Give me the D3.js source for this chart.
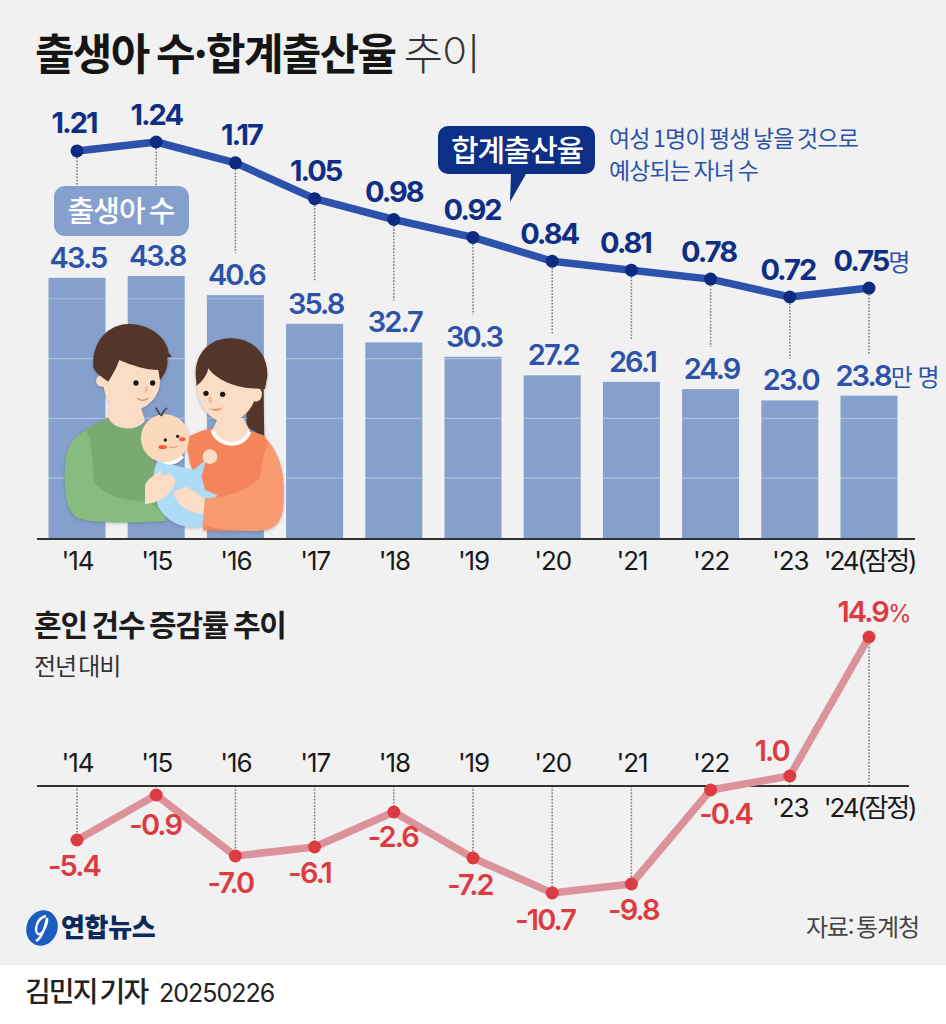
<!DOCTYPE html>
<html lang="ko">
<head>
<meta charset="utf-8">
<script src="https://cdn.jsdelivr.net/npm/d3@7"></script>
<style>
  html, body { margin: 0; padding: 0; background: #fff; }
  svg { display: block; }
  text { font-family: Inter, "Noto Sans CJK KR", sans-serif; }
  .kr { font-family: "Noto Sans CJK KR", sans-serif; }
</style>
</head>
<body>
<svg id="chart" width="946" height="1024"></svg>
<script>
// values
const years = ["'14", "'15", "'16", "'17", "'18", "'19", "'20", "'21", "'22", "'23", "'24(잠정)"];
const births = [43.5, 43.8, 40.6, 35.8, 32.7, 30.3, 27.2, 26.1, 24.9, 23.0, 23.8];
const fertility = [1.21, 1.24, 1.17, 1.05, 0.98, 0.92, 0.84, 0.81, 0.78, 0.72, 0.75];
const marriage = [-5.4, -0.9, -7.0, -6.1, -2.6, -7.2, -10.7, -9.8, -0.4, 1.0, 14.9];
const birthGrid = [10, 20, 30, 40];

const svg = d3.select("#chart");

svg.append("rect").attr("width", 946).attr("height", 965).attr("fill", "#f1f1f1");

const x = d3.scalePoint().domain(years).range([77, 869]);
const yBirth = d3.scaleLinear().domain([0, 43.8]).range([538, 276]);
const yRate = d3.scaleLinear().domain([0.72, 1.24]).range([297, 142]);
const yMarriage = d3.scaleLinear().domain([0, 14.9]).range([786, 637]);

const navy = "#0f2f85", blue = "#2d52aa", barBlue = "#86a0cd", red = "#dc3c41";
const barW = 57;

// title
const title = svg.append("text").attr("class", "kr").attr("x", 35).attr("y", 70)
  .attr("font-size", 43).attr("letter-spacing", -1.7).attr("word-spacing", -3).attr("fill", "#151515");
title.append("tspan").attr("font-weight", 700).text("출생아 수·합계출산율");
title.append("tspan").attr("font-weight", 300).attr("dx", 8).attr("fill", "#333").text("추이");

// bars with their faint grid lines
const bars = svg.append("g");
bars.selectAll("rect").data(births).enter().append("rect")
  .attr("x", (d, i) => x(years[i]) - barW / 2)
  .attr("y", d => yBirth(d))
  .attr("width", barW)
  .attr("height", d => yBirth(0) - yBirth(d))
  .attr("fill", barBlue);

births.forEach((d, i) => {
  birthGrid.filter(g => g < d).forEach(g => {
    bars.append("line")
      .attr("x1", x(years[i]) - barW / 2).attr("x2", x(years[i]) + barW / 2)
      .attr("y1", yBirth(g)).attr("y2", yBirth(g))
      .attr("stroke", "#fff").attr("stroke-opacity", 0.35).attr("stroke-width", 1.2);
  });
});

// dotted droplines
svg.append("g").selectAll("line").data(fertility).enter().append("line")
  .attr("x1", (d, i) => x(years[i])).attr("x2", (d, i) => x(years[i]))
  .attr("y1", d => yRate(d))
  .attr("y2", (d, i) => yBirth(births[i]) - 42)
  .attr("stroke", "#777").attr("stroke-width", 1.5).attr("stroke-dasharray", "1.6 1.6");

// badge
svg.append("rect").attr("x", 54).attr("y", 186).attr("width", 135).attr("height", 50)
  .attr("rx", 11).attr("fill", barBlue);
svg.append("text").attr("class", "kr").attr("x", 121).attr("y", 222).attr("text-anchor", "middle")
  .attr("font-size", 29).attr("font-weight", 500).attr("letter-spacing", -1).attr("word-spacing", -3).attr("fill", "#fff")
  .text("출생아 수");

// bar value labels
const barLabels = svg.append("g").attr("font-size", 29).attr("font-weight", 600)
  .attr("letter-spacing", -1.9).attr("fill", blue);
births.forEach((d, i) => {
  const last = i === births.length - 1;
  const t = barLabels.append("text")
    .attr("x", x(years[i]) + (last ? 18 : 1))
    .attr("y", yBirth(d) - 10)
    .attr("text-anchor", "middle")
    .text(d.toFixed(1));
  if (last) t.append("tspan").attr("class", "kr").attr("font-size", 24).attr("font-weight", 400).attr("letter-spacing", -1).text("만 명");
});

// fertility line
const rateLine = d3.line().x((d, i) => x(years[i])).y(d => yRate(d));
svg.append("path").attr("d", rateLine(fertility)).attr("fill", "none")
  .attr("stroke", "#2d52ac").attr("stroke-width", 7.5).attr("stroke-linejoin", "round");
svg.append("g").selectAll("circle").data(fertility).enter().append("circle")
  .attr("cx", (d, i) => x(years[i])).attr("cy", d => yRate(d)).attr("r", 6.5).attr("fill", "#0b2a80");

// sideways shift of each rate label, as placed in the original
const rateShift = [-3, 0, 6, 1, 0, -1, -3, -6, -2, -2, 2];
const rateLabels = svg.append("g").attr("font-size", 29).attr("font-weight", 700)
  .attr("letter-spacing", -2).attr("fill", navy);
fertility.forEach((d, i) => {
  const t = rateLabels.append("text")
    .attr("x", x(years[i]) + rateShift[i])
    .attr("y", yRate(d) - 17.5)
    .attr("text-anchor", "middle")
    .text(d.toFixed(2));
  if (i === fertility.length - 1) t.append("tspan").attr("class", "kr").attr("font-size", 24).attr("font-weight", 400).attr("fill", blue).text("명");
});

// callout
svg.append("path")
  .attr("d", "M448,126 H585 a10,10 0 0 1 10,10 V164 a10,10 0 0 1 -10,10 H526 L510,202 L511,174 H448 a10,10 0 0 1 -10,-10 V136 a10,10 0 0 1 10,-10 Z")
  .attr("fill", "#0d2f86");
svg.append("text").attr("class", "kr").attr("x", 517).attr("y", 161).attr("text-anchor", "middle")
  .attr("font-size", 30).attr("font-weight", 500).attr("letter-spacing", -1.2).attr("fill", "#fff").text("합계출산율");
svg.append("text").attr("class", "kr").attr("x", 609).attr("y", 147)
  .attr("font-size", 23).attr("letter-spacing", -0.9).attr("word-spacing", -2).attr("fill", blue).text("여성 1명이 평생 낳을 것으로");
svg.append("text").attr("class", "kr").attr("x", 609).attr("y", 179)
  .attr("font-size", 23).attr("letter-spacing", -0.9).attr("word-spacing", -2).attr("fill", blue).text("예상되는 자녀 수");

// axis text styling
function styleAxis(g) {
  g.select(".domain").remove();
  g.selectAll("text").attr("font-size", 26).attr("letter-spacing", -1.1).attr("fill", "#1a1a1a")
    .attr("font-family", 'Inter, "Noto Sans CJK KR", sans-serif');
  g.selectAll("text").filter(d => d === years[years.length - 1]).attr("letter-spacing", -2.2);
}
svg.append("g").attr("transform", "translate(0,539)")
  .call(d3.axisBottom(x).tickSize(0).tickPadding(13))
  .call(styleAxis);
svg.append("line").attr("x1", 37).attr("x2", 915).attr("y1", 539).attr("y2", 539)
  .attr("stroke", "#333").attr("stroke-width", 2);

// family illustration, traced in crop coordinates
const art = svg.append("g").attr("transform", "translate(30,310) scale(0.3333)")
  .style("filter", "drop-shadow(0 3px 5px rgba(60,60,60,0.3))");
const skin = "#fbdcc5", hair = "#54352a";
const shapes = [
  // man
  ["M235,322 C190,345 125,370 108,440 C100,520 105,590 135,620 C170,640 330,640 410,632 L372,460 L345,340 C330,360 250,365 235,322 Z", "#79ab71"],
  ["M170,360 C130,380 110,410 107,450 C100,530 105,590 135,620 C165,640 300,640 410,632 L380,590 L345,575 C300,570 240,570 190,515 C190,460 185,400 170,360 Z", "#87bc80"],
  ["M240,270 L235,322 C250,365 330,365 345,330 L330,285 Z", skin],
  ["M215,190 C215,140 270,130 320,135 C370,140 392,170 390,215 C388,270 340,305 290,305 C245,305 220,265 215,190 Z", skin],
  ["M232,213 a17,17 0 1 1 -34,0 a17,17 0 1 1 34,0 Z", skin],
  ["M190,170 C185,90 240,40 300,42 C370,45 412,90 416,128 L426,140 L412,142 C415,170 408,190 390,210 L385,180 C350,180 300,165 268,150 L258,175 L235,215 C205,195 190,180 190,170 Z", hair],
  // woman
  ["M650,200 L700,210 L703,382 L650,350 Z", hair],
  ["M560,350 C520,360 490,370 468,385 L480,460 L520,560 L520,660 C600,665 680,665 730,650 C765,620 765,520 755,480 C745,430 720,400 700,375 L655,362 Z", "#f6845a"],
  ["M570,310 L548,360 C560,410 645,420 660,362 L640,325 Z", skin],
  ["M500,200 C505,150 560,130 610,140 C660,150 682,200 678,250 C670,310 620,340 580,335 C530,330 495,270 500,200 Z", skin],
  ["M696,253 a18,22 0 1 1 -36,0 a18,22 0 1 1 36,0 Z", skin],
  ["M497,195 C495,130 540,85 600,85 C670,85 715,130 712,200 L705,237 L660,235 C610,230 560,210 535,175 C530,200 515,215 500,228 Z", hair],
  // baby
  ["M385,450 C365,480 365,530 385,590 C410,640 470,660 515,650 L525,600 L562,555 L525,540 L515,500 L528,450 L490,480 L450,470 Z", "#aedcf6"],
  ["M390,452 Q430,480 462,442 L455,435 L395,440 Z", "#fff"],
  ["M405,313 C445,313 477,345 477,385 C477,425 445,457 405,457 C365,457 333,425 333,385 C333,345 365,313 405,313 Z", "#fbd9bc"],
  ["M562,440 a22,22 0 1 1 -44,0 a22,22 0 1 1 44,0 Z", skin],
  // hands and the woman's sleeve
  ["M345,530 C345,510 380,490 395,480 L392,500 L420,490 L437,510 C430,550 390,580 345,582 Z", skin],
  ["M430,545 L470,530 L525,565 L520,612 C480,610 440,590 430,545 Z", skin],
  ["M525,565 C600,560 660,540 690,500 C700,440 705,410 715,400 C750,430 765,500 760,590 C755,640 730,660 690,662 C640,665 570,660 518,645 Z", "#fa9a70"]
];
art.selectAll("path").data(shapes).enter().append("path")
  .attr("d", d => d[0]).attr("fill", d => d[1]);
art.append("path").attr("d", "M548,360 C560,410 640,418 658,365").attr("fill", "none").attr("stroke", "#fff").attr("stroke-width", 12);
const faces = art.append("g").style("filter", "none");
[[318, 219, 8], [368, 219, 8], [528, 250, 8], [578, 253, 8], [406, 390, 5], [443, 379, 5]].forEach(e => {
  faces.append("circle").attr("cx", e[0]).attr("cy", e[1]).attr("r", e[2]).attr("fill", "#1d1512");
});
faces.append("ellipse").attr("cx", 398).attr("cy", 411).attr("rx", 13).attr("ry", 6).attr("fill", "#f2603c");
faces.append("ellipse").attr("cx", 457).attr("cy", 388).attr("rx", 10).attr("ry", 6).attr("fill", "#f2603c");
faces.append("path").attr("d", "M322,265 q15,12 32,0").attr("fill", "none").attr("stroke", "#e0855f").attr("stroke-width", 4);
faces.append("path").attr("d", "M350,225 q8,20 -3,26 q-8,-8 3,-26").attr("fill", "#f2b9a0");
faces.append("path").attr("d", "M540,255 q-12,22 3,28 q8,-12 -3,-28").attr("fill", "#f2b9a0");
faces.append("path").attr("d", "M535,295 q22,5 45,-3 q-20,20 -45,3").attr("fill", "#e8917a");
faces.append("path").attr("d", "M418,410 q12,8 24,-3").attr("fill", "none").attr("stroke", "#e0855f").attr("stroke-width", 3);
faces.append("path").attr("d", "M395,318 C385,310 382,300 378,293 M395,318 C398,305 405,297 412,294")
  .attr("fill", "none").attr("stroke", "#333").attr("stroke-width", 4);

// marriage chart
svg.append("text").attr("class", "kr").attr("x", 34).attr("y", 636)
  .attr("font-size", 30).attr("font-weight", 700).attr("letter-spacing", -1.2).attr("word-spacing", -2.5).attr("fill", "#1c1c1c").text("혼인 건수 증감률 추이");
svg.append("text").attr("class", "kr").attr("x", 34).attr("y", 675)
  .attr("font-size", 24).attr("letter-spacing", -1.2).attr("word-spacing", -3).attr("fill", "#333").text("전년 대비");

svg.append("g").selectAll("line").data(marriage).enter().append("line")
  .attr("x1", (d, i) => x(years[i])).attr("x2", (d, i) => x(years[i]))
  .attr("y1", yMarriage(0)).attr("y2", d => yMarriage(d))
  .attr("stroke", "#777").attr("stroke-width", 1.5).attr("stroke-dasharray", "1.6 1.6");

svg.append("line").attr("x1", 37).attr("x2", 909).attr("y1", yMarriage(0)).attr("y2", yMarriage(0))
  .attr("stroke", "#333").attr("stroke-width", 2);

svg.append("g").attr("transform", `translate(0,${yMarriage(0)})`)
  .call(d3.axisTop(x).tickValues(years.slice(0, 9)).tickSize(0).tickPadding(14))
  .call(styleAxis);
svg.append("g").attr("transform", `translate(0,${yMarriage(0)})`)
  .call(d3.axisBottom(x).tickValues(years.slice(9)).tickSize(0).tickPadding(13))
  .call(styleAxis);

const marriageLine = d3.line().x((d, i) => x(years[i])).y(d => yMarriage(d));
svg.append("path").attr("d", marriageLine(marriage)).attr("fill", "none")
  .attr("stroke", "#dc929b").attr("stroke-width", 7.5).attr("stroke-linejoin", "round");
svg.append("g").selectAll("circle").data(marriage).enter().append("circle")
  .attr("cx", (d, i) => x(years[i])).attr("cy", d => yMarriage(d)).attr("r", 6.5).attr("fill", red);

// label offsets, by year, where the original moves a label off its point
const nudge = { 0: [-3, 36], 1: [-1, 40], 2: [-5, 37], 3: [-5, 36], 4: [-1, 35], 5: [-3, 37], 6: [-7, 37], 7: [2, 36], 8: [15, 34], 9: [-18, -15], 10: [5, -15] };
const marriageLabels = svg.append("g").attr("font-size", 29).attr("font-weight", 600)
  .attr("letter-spacing", -1.9).attr("fill", red);
marriage.forEach((d, i) => {
  const t = marriageLabels.append("text")
    .attr("x", x(years[i]) + nudge[i][0])
    .attr("y", yMarriage(d) + nudge[i][1])
    .attr("text-anchor", "middle")
    .text(d.toFixed(1));
  if (i === marriage.length - 1) t.append("tspan").attr("font-size", 24).attr("font-weight", 400).attr("letter-spacing", -1).text("%");
});

// logo and source
const logo = svg.append("g").attr("transform", "translate(42,928)");
logo.append("ellipse").attr("rx", 15.5).attr("ry", 18).attr("transform", "rotate(20)").attr("fill", "#1a5cc0");
logo.append("path").attr("d", "M4,-12 C-6,-10 -8,4 -4,6 C0,8 6,-4 5,-10 M5,-10 C3,0 0,10 -6,13")
  .attr("fill", "none").attr("stroke", "#fff").attr("stroke-width", 2.4);
svg.append("text").attr("class", "kr").attr("x", 61).attr("y", 937)
  .attr("font-size", 26).attr("font-weight", 900).attr("letter-spacing", -0.3).attr("fill", "#0e2a5c").text("연합뉴스");
svg.append("text").attr("class", "kr").attr("x", 919).attr("y", 936).attr("text-anchor", "end")
  .attr("font-size", 24).attr("letter-spacing", -1.1).attr("word-spacing", -3).attr("fill", "#444").text("자료: 통계청");

svg.append("text").attr("class", "kr").attr("x", 25).attr("y", 1002)
  .attr("font-size", 28).attr("font-weight", 500).attr("letter-spacing", -1.9).attr("word-spacing", -3).attr("fill", "#222").text("김민지 기자");
svg.append("text").attr("x", 159).attr("y", 1002)
  .attr("font-size", 25).attr("letter-spacing", -1).attr("fill", "#222").text("20250226");
</script>
</body>
</html>
